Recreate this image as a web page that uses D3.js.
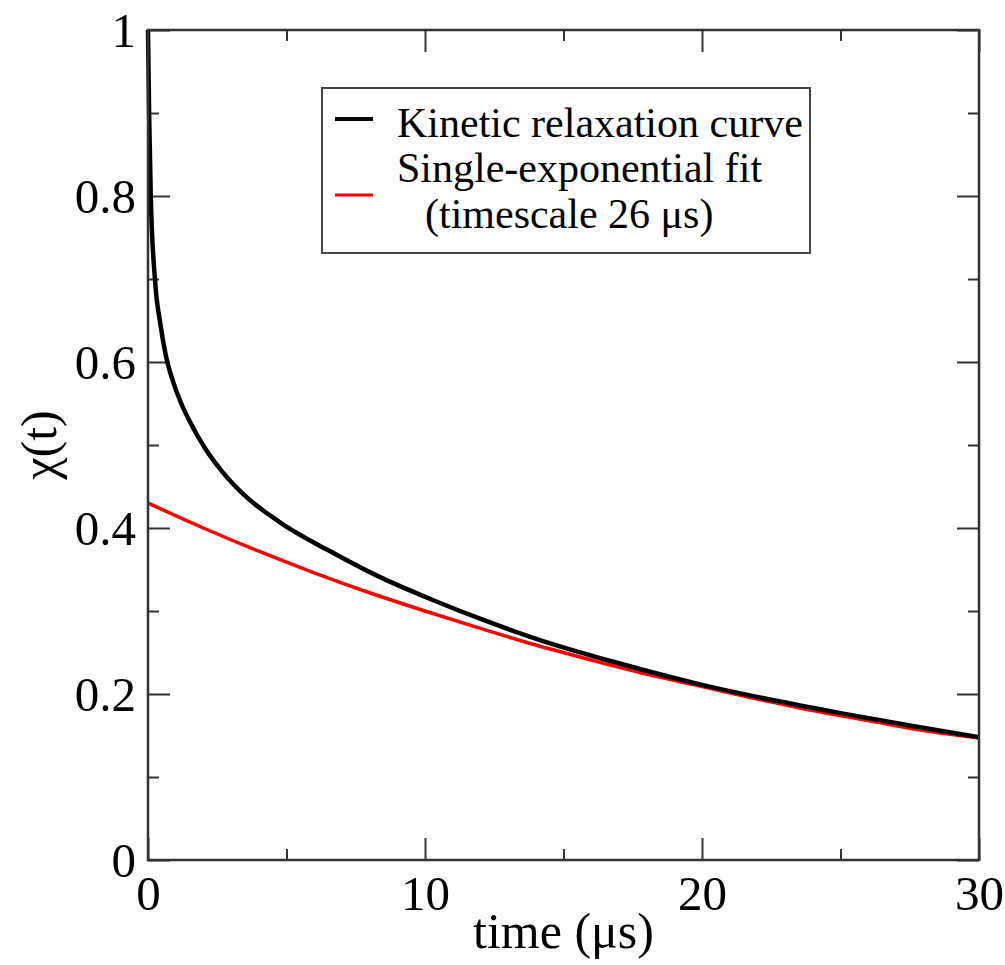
<!DOCTYPE html>
<meta charset="utf-8" />
<script src="https://d3js.org/d3.v7.min.js"></script>
<style>
  body { margin: 0; background: #fff; }
  text { font-family: "Liberation Serif", "Times New Roman", serif; fill: #000; }
</style>
<div id="my_dataviz"></div>
<script>
  // values
  const timeVals = [0, 0.04, 0.1, 0.25, 0.45, 0.65, 0.9, 1.2, 1.5, 2.06, 2.7, 3.43, 4.8, 6.46, 8.3, 10.3, 12.2, 14.15, 17, 20, 22.5, 25, 27.5, 30];
  const relaxVals = [1.0, 0.9, 0.8, 0.7, 0.645, 0.607, 0.577, 0.55, 0.529, 0.496, 0.467, 0.441, 0.406, 0.374, 0.342, 0.313, 0.288, 0.265, 0.237, 0.211, 0.193, 0.177, 0.162, 0.148];

  const fitTime = [0, 2, 4, 6, 8, 10, 12, 14, 16, 18, 20, 22, 24, 26, 28, 30];
  const fitVals = [0.43, 0.4, 0.372, 0.346, 0.322, 0.3, 0.279, 0.259, 0.241, 0.224, 0.209, 0.194, 0.18, 0.168, 0.156, 0.147];

  const xMajor = [0, 10, 20, 30];
  const xMinor = [5, 15, 25];
  const yMajor = [0, 0.2, 0.4, 0.6, 0.8, 1];
  const yMinor = [0.1, 0.3, 0.5, 0.7, 0.9];
  const yLabels = ["0", "0.2", "0.4", "0.6", "0.8", "1"];

  const legendItems = [
    { lines: ["Kinetic relaxation curve"], color: "#000", w: 4 },
    { lines: ["Single-exponential fit", "(timescale 26 \u03bcs)"], color: "#ff0000", w: 3 }
  ];

  const W = 1005, H = 965;
  const margin = { top: 30, right: 26, bottom: 105, left: 148 },
    width = W - margin.left - margin.right,
    height = H - margin.top - margin.bottom;

  const svgRoot = d3.select("#my_dataviz").append("svg")
    .attr("width", W).attr("height", H);
  const svg = svgRoot.append("g")
    .attr("transform", `translate(${margin.left},${margin.top})`);

  const x = d3.scaleLinear().domain([0, 30]).range([0, width]);
  const y = d3.scaleLinear().domain([0, 1]).range([height, 0]);

  const tickColor = "#333";
  const fontSize = 49;

  function styleTicks(g) {
    g.select(".domain").remove();
    g.selectAll(".tick line").attr("stroke", tickColor).attr("stroke-width", 2);
  }

  // minor ticks on all four sides
  svg.append("g").attr("transform", `translate(0,${height})`)
    .call(d3.axisBottom(x).tickValues(xMinor).tickSizeInner(-11).tickSizeOuter(0).tickFormat(""))
    .call(styleTicks);
  svg.append("g")
    .call(d3.axisTop(x).tickValues(xMinor).tickSizeInner(-11).tickSizeOuter(0).tickFormat(""))
    .call(styleTicks);
  svg.append("g")
    .call(d3.axisLeft(y).tickValues(yMinor).tickSizeInner(-11).tickSizeOuter(0).tickFormat(""))
    .call(styleTicks);
  svg.append("g").attr("transform", `translate(${width},0)`)
    .call(d3.axisRight(y).tickValues(yMinor).tickSizeInner(-11).tickSizeOuter(0).tickFormat(""))
    .call(styleTicks);

  // major ticks
  const xAxis = svg.append("g").attr("transform", `translate(0,${height})`)
    .call(d3.axisBottom(x).tickValues(xMajor).tickSizeInner(-22).tickSizeOuter(0).tickFormat(d3.format("d")))
    .call(styleTicks);
  xAxis.selectAll(".tick text")
    .attr("y", 50).attr("dy", 0)
    .style("font-size", fontSize + "px")
    .style("font-family", "'Liberation Serif', serif");

  svg.append("g")
    .call(d3.axisTop(x).tickValues(xMajor).tickSizeInner(-22).tickSizeOuter(0).tickFormat(""))
    .call(styleTicks);

  const yAxis = svg.append("g")
    .call(d3.axisLeft(y).tickValues(yMajor).tickSizeInner(-22).tickSizeOuter(0)
      .tickFormat((d, i) => yLabels[i]))
    .call(styleTicks);
  yAxis.selectAll(".tick text")
    .attr("x", -12).attr("dy", "0.34em")
    .style("font-size", fontSize + "px")
    .style("font-family", "'Liberation Serif', serif");

  svg.append("g").attr("transform", `translate(${width},0)`)
    .call(d3.axisRight(y).tickValues(yMajor).tickSizeInner(-22).tickSizeOuter(0).tickFormat(""))
    .call(styleTicks);

  // curves
  const relaxData = timeVals.map((t, i) => ({ t: t, v: relaxVals[i] }));
  const fitData = fitTime.map((t, i) => ({ t: t, v: fitVals[i] }));

  const line = d3.line()
    .x((d) => x(d.t))
    .y((d) => y(d.v))
    .curve(d3.curveMonotoneX);

  svg.append("path").datum(fitData)
    .attr("fill", "none").attr("stroke", "#ff0000").attr("stroke-width", 3.5)
    .attr("d", line);
  svg.append("path").datum(relaxData)
    .attr("fill", "none").attr("stroke", "#000").attr("stroke-width", 4.5)
    .attr("d", line);

  // frame
  svg.append("rect")
    .attr("width", width).attr("height", height)
    .attr("fill", "none").attr("stroke", tickColor).attr("stroke-width", 2.5);

  // axis titles
  svg.append("text")
    .attr("x", width / 2).attr("y", height + 88)
    .attr("text-anchor", "middle")
    .style("font-size", "50px")
    .text("time (\u03bcs)");

  svg.append("text")
    .attr("transform", `translate(${-92},${height / 2}) rotate(-90)`)
    .attr("text-anchor", "middle")
    .style("font-size", "50px")
    .text("\u03c7(t)");

  // legend
  const legend = svgRoot.append("g").attr("transform", "translate(322,88)");
  legend.append("rect")
    .attr("width", 488).attr("height", 165)
    .attr("fill", "#fff").attr("stroke", "#444").attr("stroke-width", 2);

  const lineY = [31, 107];
  const textY = [[49], [94, 140]];
  const textX = [[75], [75, 103]];
  legendItems.forEach(function (item, i) {
    legend.append("line")
      .attr("x1", 13).attr("x2", 51)
      .attr("y1", lineY[i]).attr("y2", lineY[i])
      .attr("stroke", item.color).attr("stroke-width", item.w);
    item.lines.forEach(function (s, j) {
      legend.append("text")
        .attr("x", textX[i][j]).attr("y", textY[i][j])
        .style("font-size", "42px")
        .text(s);
    });
  });
</script>
